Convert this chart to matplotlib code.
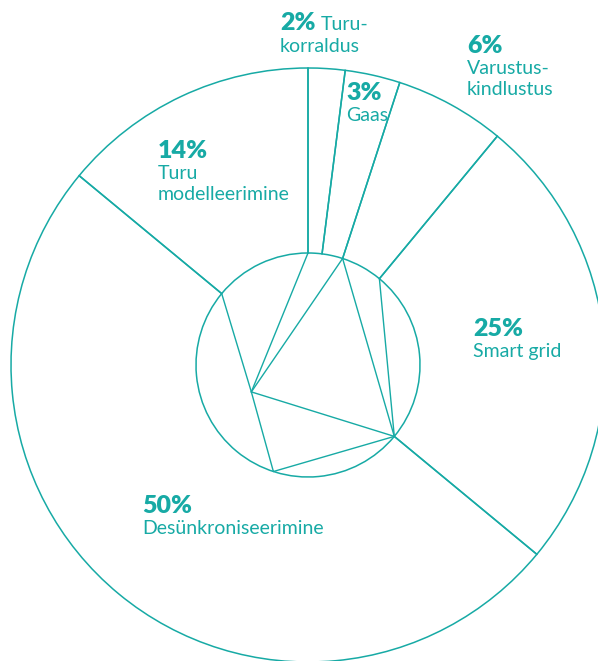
import numpy as np
import matplotlib
matplotlib.use('Agg')
import matplotlib.pyplot as plt

teal = '#17aaa5'

# shares, clockwise from 12 o'clock
shares = [2, 3, 6, 25, 50, 14]
pct_labels = ['2%', '3%', '6%', '25%', '50%', '14%']
names = [['Turu-', 'korraldus'], ['Gaas'], ['Varustus-', 'kindlustus'],
         ['Smart grid'], ['Desünkroniseerimine'], ['Turu', 'modelleerimine']]

W, H = 598, 661
cx, cy = 308, H - 365
R_out = 297
R_in = 112

fig = plt.figure(figsize=(W/100, H/100), dpi=100)
ax = fig.add_axes([0, 0, 1, 1])

ax.pie(shares, radius=R_out, center=(cx, cy), startangle=90, counterclock=False,
       wedgeprops=dict(width=R_out - R_in, fill=False, edgecolor=teal, linewidth=1.1),
       frame=True)

# boundary angles between wedges (degrees)
bounds = 90 - 3.6*np.concatenate([[0], np.cumsum(shares)])

def inner_pt(ang, frac=1.0):
    a = np.radians(ang)
    return cx + frac*R_in*np.cos(a), cy + frac*R_in*np.sin(a)

# decorative web inside the hole
nodes = {'b0': inner_pt(bounds[0]), 'b2': inner_pt(bounds[2]), 'b3': inner_pt(bounds[3]),
         'b4': inner_pt(bounds[4]), 'b5': inner_pt(bounds[5]),
         'Q': inner_pt(205.4, 0.56), 'B': inner_pt(-108)}
edges = [('b0', 'Q'), ('b2', 'Q'), ('b5', 'Q'), ('Q', 'B'), ('Q', 'b4'),
         ('B', 'b4'), ('b2', 'b4'), ('b3', 'b4')]
for a, b in edges:
    ax.plot([nodes[a][0], nodes[b][0]], [nodes[a][1], nodes[b][1]],
            color=teal, lw=1.0, solid_capstyle='round')

# label positions: left x, baseline y (image coords) of the percentage line
label_pos = [(280, 30), (346, 100), (467, 53), (473, 336), (142, 513), (158, 158)]
fam = ['Lato', 'DejaVu Sans']
for i, (x, yb) in enumerate(label_pos):
    ax.text(x, H - yb, pct_labels[i], color=teal, fontsize=18, fontweight='heavy',
            family=fam, va='baseline', ha='left')
    lines = names[i]
    if i == 0:
        ax.text(321, H - yb, lines[0], color=teal, fontsize=14, family=fam,
                va='baseline', ha='left')
        lines = lines[1:]
        yb += 1
    for j, ln in enumerate(lines):
        ax.text(x, H - (yb + 21*(j + 1)), ln, color=teal, fontsize=14, family=fam,
                va='baseline', ha='left')

ax.set_xlim(0, W)
ax.set_ylim(0, H)
ax.set_aspect('equal')
ax.axis('off')
fig.savefig('out.png', dpi=100)
